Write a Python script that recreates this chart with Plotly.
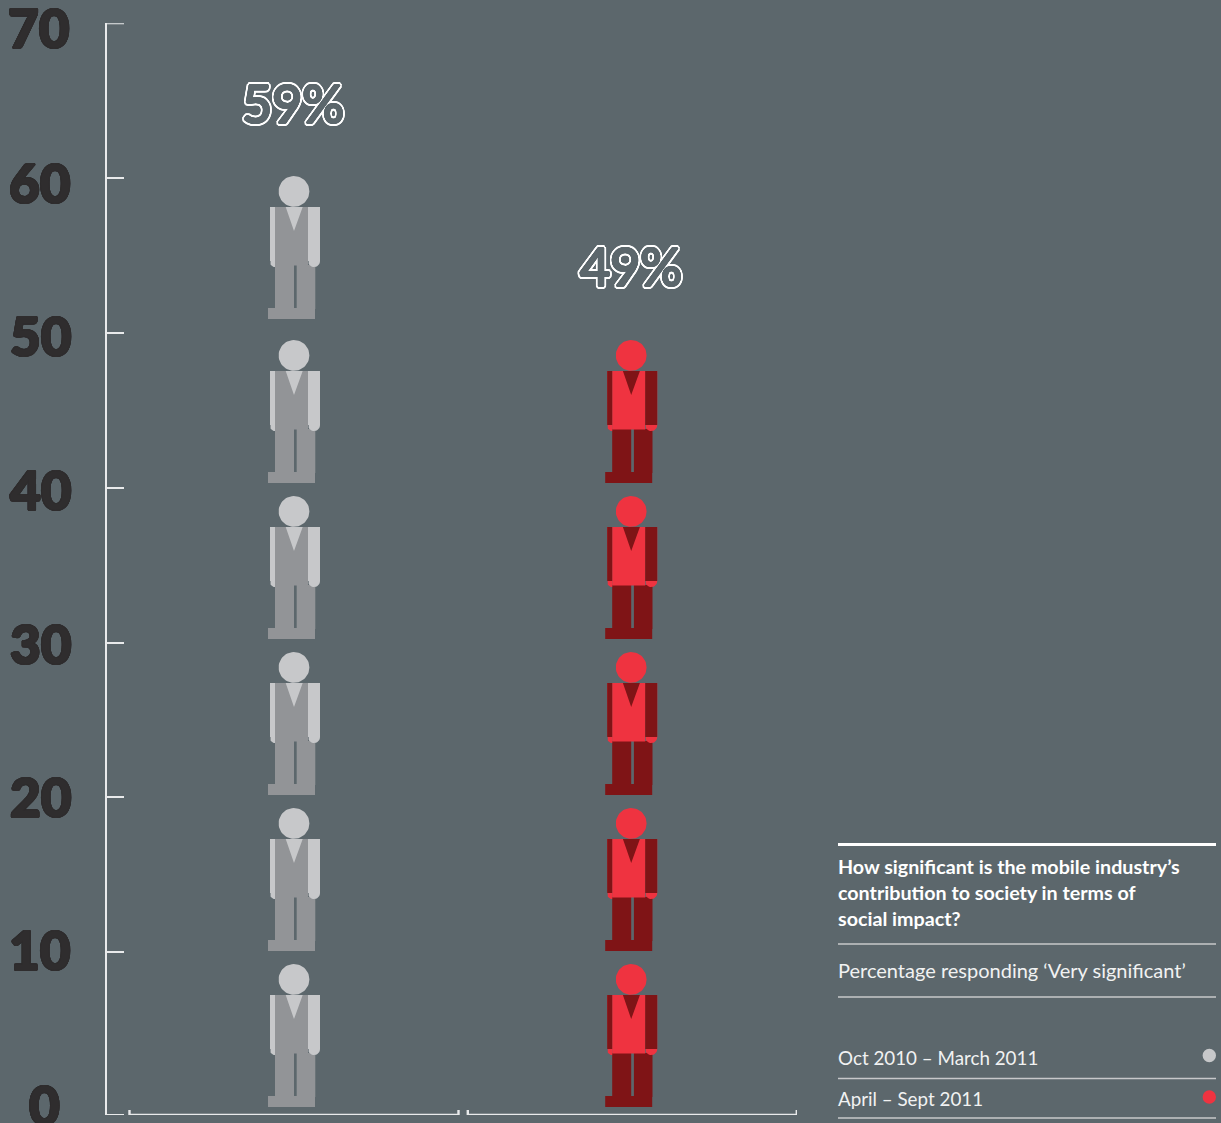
import math
import numpy as np
import plotly.graph_objects as go

# Survey results
periods = ["Oct 2010 – March 2011", "April – Sept 2011"]
very_significant = [59, 49]
axis_ticks = [10, 20, 30, 40, 50, 60]
axis_labels = [0, 10, 20, 30, 40, 50, 60, 70]
title_lines = ["How significant is the mobile industry’s",
               "contribution to society in terms of",
               "social impact?"]
subtitle = "Percentage responding ‘Very significant’"

W, H = 1221, 1123
BG = "#5c676c"
AXIS = "#e9eaeb"
RULE = "#c7c8ca"
DARK_TEXT = "#2f2d2e"
FONT = "Lato"

# Per-period palette for the pictogram parts
PALETTES = [
    dict(body="#929497", legs="#929497", arm="#c7c8ca", hand="#c7c8ca", tie="#c7c8ca", head="#c7c8ca"),
    dict(body="#ef3340", legs="#7f1416", arm="#7f1416", hand="#ef3340", tie="#7f1416", head="#ef3340"),
]

# Plot-area geometry
LEFT, RIGHT = 107.0, 797.0          # the axis line is drawn just outside LEFT
TOP, BOTTOM = 23.3, 1115.0
ZERO_PX = 1107.1
CAT0_PX = 294.0
PX_PER_CAT = 338.0
PX_PER_UNIT = (ZERO_PX - TOP) / 70
Y_MIN = -(BOTTOM - ZERO_PX) / PX_PER_UNIT
Y_MAX = 70
TICK_END_PX = 124.0
FIGURE_STEP = 156.0 / PX_PER_UNIT   # each figure stands for ten points
TOP_LIFT = 8.0 / PX_PER_UNIT        # figures above the 50 line sit a little higher
FIGURE_NUDGE = [0.0, -0.8]          # red column sits slightly left of its bracket centre


def arc(cx, cy, r, a0, a1, n=14):
    t = np.radians(np.linspace(a0, a1, n))
    return list(cx + r * np.cos(t)), list(cy + r * np.sin(t))


def rect(x0, x1, y0, y1):
    return [x0, x1, x1, x0, x0], [y0, y0, y1, y1, y0]


def left_hand():
    ax, ay = arc(-19, 57, 5, 180, 270)
    return [-24] + ax + [-19, -19, -24], [112] + ay + [52, 112, 112]


def right_hand():
    ax, ay = arc(20, 58, 6, 180, 360)
    return [14] + ax + [26, 14], [112] + ay + [112, 112]


def head():
    return arc(0, 127.7, 15.4, 0, 360, 60)


# Person outline, in pixels about the figure's centre and foot line
PARTS = [
    ("legs", [rect(-19, 0, 10, 54), rect(2.7, 21.3, 10, 54), rect(-26, 21, 0, 11)]),
    ("hand", [left_hand(), right_hand()]),
    ("body", [rect(-19, 14, 53.5, 112)]),
    ("arm", [rect(-24, -19, 58, 112), rect(14, 26, 58, 112)]),
    ("tie", [([-8.3, 8.7, 0, -8.3], [112, 112, 88, 112])]),
    ("head", [head()]),
]

fig = go.Figure()

for s, value in enumerate(very_significant):
    figures = math.ceil(value / 10)
    bases = [i * FIGURE_STEP + (TOP_LIFT if i * 10 >= 50 else 0) for i in range(figures)]
    for part, polys in PARTS:
        xs, ys = [], []
        for base in bases:
            for px, py in polys:
                xs += [s + (v + FIGURE_NUDGE[s]) / PX_PER_CAT for v in px] + [None]
                ys += [base + v / PX_PER_UNIT for v in py] + [None]
        fig.add_trace(go.Scatter(x=xs, y=ys, mode="lines", fill="toself",
                                 fillcolor=PALETTES[s][part],
                                 line=dict(width=0), hoverinfo="skip",
                                 showlegend=False, cliponaxis=False))

    # Category bracket under each column
    half = 164.5 / PX_PER_CAT
    rise = 5 / PX_PER_UNIT
    centre = s + 0.3 * s / PX_PER_CAT
    fig.add_trace(go.Scatter(x=[centre - half, centre - half, centre + half, centre + half],
                             y=[Y_MIN + rise, Y_MIN, Y_MIN, Y_MIN + rise],
                             mode="lines", line=dict(color=AXIS, width=2.4),
                             hoverinfo="skip", showlegend=False, cliponaxis=False))

# End stubs closing the value axis at the top and at the baseline
for stub_y in (Y_MAX, Y_MIN):
    fig.add_trace(go.Scatter(x=[(LEFT - 2 - CAT0_PX) / PX_PER_CAT, (TICK_END_PX - CAT0_PX) / PX_PER_CAT],
                             y=[stub_y, stub_y], mode="lines", line=dict(color=AXIS, width=2),
                             hoverinfo="skip", showlegend=False, cliponaxis=False))

annotations = []


def ring(radius, colour, steps=16):
    """CSS text-shadow list forming a solid ring around the glyphs."""
    return [f"{radius * math.cos(2 * math.pi * k / steps):.2f}px "
            f"{radius * math.sin(2 * math.pi * k / steps):.2f}px 0 {colour}" for k in range(steps)]


# Value-axis numerals, centred in the left gutter and thickened with a soft ring
label_drop = {70: 4, 60: 4, 50: 3, 40: 2, 30: 1, 20: -1, 10: -3, 0: -3}
label_x = {0: 44, 70: 38, 60: 39, 10: 39}
for v in axis_labels:
    annotations.append(dict(
        x=label_x.get(v, 40) / W, xref="paper", xanchor="center",
        y=v, yref="y", yanchor="middle", yshift=-label_drop[v], showarrow=False,
        text=str(v), font=dict(family=FONT, size=53, color=DARK_TEXT, weight=900,
                               shadow=", ".join(ring(1.1, DARK_TEXT)))))

# Hollow percentage above each column: a background-coloured ring over a white one
hollow = ", ".join(ring(1.2, BG) + ring(3.0, "#ffffff", 24))
for s, value in enumerate(very_significant):
    annotations.append(dict(
        x=s - 1 / PX_PER_CAT, xref="x", xanchor="center",
        y=value, yref="y", yanchor="middle",
        yshift=90.5 if value > 50 else 82, showarrow=False,
        text=f"{value}%", font=dict(family=FONT, size=52, color=BG, shadow=hollow)))


def panel_text(text, py, bold=False, size=20):
    annotations.append(dict(
        x=836 / W, xref="paper", xanchor="left",
        y=1 - py / H, yref="paper", yanchor="middle", showarrow=False,
        text=text, font=dict(family=FONT, size=size, color="#ffffff" if bold else "#f1f2f2",
                             weight=700 if bold else 400)))


# Question panel at the lower right
for line, py in zip(title_lines, [866, 892, 918]):
    panel_text(line, py, bold=True, size=19.7)
panel_text(subtitle, 970)
for name, py in zip(periods, [1057, 1098]):
    panel_text(name, py, size=18.8)

shapes = []
for py, w, c in [(844.5, 3, "#ffffff"), (944, 1.5, RULE), (997, 1.5, RULE), (1078.5, 1.5, RULE), (1118, 1.5, RULE)]:
    shapes.append(dict(type="line", xref="paper", yref="paper", x0=838 / W, x1=1216 / W,
                       y0=1 - py / H, y1=1 - py / H, line=dict(color=c, width=w)))
for py, c in [(1055.5, PALETTES[0]["head"]), (1097, PALETTES[1]["head"])]:
    r = 6.7
    shapes.append(dict(type="circle", xref="paper", yref="paper",
                       x0=(1209.3 - r) / W, x1=(1209.3 + r) / W,
                       y0=1 - (py + r) / H, y1=1 - (py - r) / H,
                       fillcolor=c, line=dict(width=0)))

fig.update_layout(
    width=W, height=H,
    margin=dict(l=0, r=0, t=0, b=0),
    paper_bgcolor=BG, plot_bgcolor=BG,
    showlegend=False,
    annotations=annotations,
    shapes=shapes,
    xaxis=dict(domain=[LEFT / W, RIGHT / W],
               range=[(LEFT - CAT0_PX) / PX_PER_CAT, (RIGHT - CAT0_PX) / PX_PER_CAT],
               visible=False, fixedrange=True),
    yaxis=dict(domain=[1 - BOTTOM / H, 1 - TOP / H], range=[Y_MIN, Y_MAX],
               showgrid=False, zeroline=False, showline=True, linecolor=AXIS, linewidth=2,
               ticks="inside", ticklen=17, tickwidth=2, tickcolor=AXIS,
               tickvals=axis_ticks, showticklabels=False, fixedrange=True),
)

fig.write_html("out.html", config=dict(displayModeBar=False))
